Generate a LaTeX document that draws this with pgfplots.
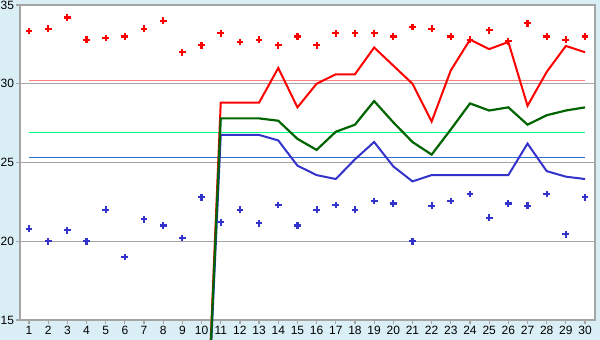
\documentclass[border=0pt]{standalone}
\usepackage{fontspec}
\setmainfont{Liberation Sans}
\usepackage{pgfplots}
\pgfplotsset{compat=1.18}
\definecolor{bgblue}{RGB}{218,238,245}
\definecolor{axgrey}{RGB}{165,165,165}
\definecolor{lred}{RGB}{255,0,0}
\definecolor{dgreen}{RGB}{0,100,0}
\definecolor{mblue}{RGB}{51,51,204}
\definecolor{pinkl}{RGB}{255,128,128}
\definecolor{springg}{RGB}{0,255,128}
\definecolor{bline}{RGB}{48,112,208}
\begin{document}
\begin{tikzpicture}
\useasboundingbox (0,0) rectangle (300pt,170pt);
\fill[bgblue] (0,0) rectangle (300pt,170pt);
\clip (0,0) rectangle (300pt,170pt);
\begin{axis}[
  at={(10pt,10pt)}, anchor=south west,
  scale only axis, width=287.5pt, height=157.5pt,
  xmin=0.53, xmax=30.52, ymin=15, ymax=35,
  clip=false,
  axis background/.style={fill=white},
  axis line style={axgrey, line width=0.6pt},
  xtick={1,...,30}, ytick={15,20,...,35},
  xtick pos=left, ytick pos=left,
  tick align=outside,
  major tick length=2pt,
  tick style={axgrey, line width=0.6pt},
  ymajorgrids, grid style={axgrey, line width=0.6pt},
  /pgf/number format/assume math mode=true,
  ticklabel style={font=\fontsize{6}{7}\selectfont, inner sep=0.8pt},
]
\addplot[pinkl, line width=0.6pt, mark=none] coordinates {(1,30.2) (30,30.2)};
\addplot[springg, line width=0.6pt, mark=none] coordinates {(1,26.9) (30,26.9)};
\addplot[bline, line width=0.6pt, mark=none] coordinates {(1,25.3) (30,25.3)};

\addplot[lred, line width=1pt, mark=none] coordinates {
(10,0) (11,28.8) (12,28.8) (13,28.8) (14,31.0) (15,28.5) (16,30.0) (17,30.6) (18,30.6) (19,32.3) (20,31.15)
(21,30.0) (22,27.6) (23,30.85) (24,32.8) (25,32.2) (26,32.65) (27,28.6) (28,30.75) (29,32.4) (30,32.0)};
\addplot[mblue, line width=1pt, mark=none] coordinates {
(10,0) (11,26.75) (12,26.75) (13,26.75) (14,26.4) (15,24.8) (16,24.2) (17,23.95) (18,25.2) (19,26.3) (20,24.75)
(21,23.8) (22,24.2) (23,24.2) (24,24.2) (25,24.2) (26,24.2) (27,26.2) (28,24.45) (29,24.1) (30,23.95)};
\addplot[dgreen, line width=1.1pt, mark=none] coordinates {
(10,0) (11,27.8) (12,27.8) (13,27.8) (14,27.65) (15,26.5) (16,25.8) (17,26.95) (18,27.4) (19,28.9) (20,27.55)
(21,26.3) (22,25.5) (23,27.1) (24,28.75) (25,28.3) (26,28.5) (27,27.4) (28,28.0) (29,28.3) (30,28.5)};

\addplot[only marks, mark=+, mark size=1.7pt, lred, line width=1.1pt] coordinates {
(1,33.35) (2,33.5) (3,34.2) (4,32.8) (5,32.9) (6,33.0) (7,33.5) (8,34.0) (9,32.0) (10,32.45)
(11,33.2) (12,32.65) (13,32.8) (14,32.45) (15,33.0) (16,32.45) (17,33.2) (18,33.2) (19,33.2) (20,33.0)
(21,33.6) (22,33.5) (23,33.0) (24,32.8) (25,33.4) (26,32.7) (27,33.85) (28,33.0) (29,32.8) (30,33.0)};
\addplot[only marks, mark=+, mark size=1.7pt, mblue, line width=1.1pt] coordinates {
(1,20.8) (2,20.0) (3,20.7) (4,20.0) (5,22.0) (6,19.0) (7,21.4) (8,21.0) (9,20.2) (10,22.8)
(11,21.2) (12,22.0) (13,21.15) (14,22.3) (15,21.0) (16,22.0) (17,22.3) (18,22.0) (19,22.55) (20,22.4)
(21,20.0) (22,22.25) (23,22.55) (24,23.0) (25,21.5) (26,22.4) (27,22.25) (28,23.0) (29,20.45) (30,22.8)};
\end{axis}
\end{tikzpicture}
\end{document}
